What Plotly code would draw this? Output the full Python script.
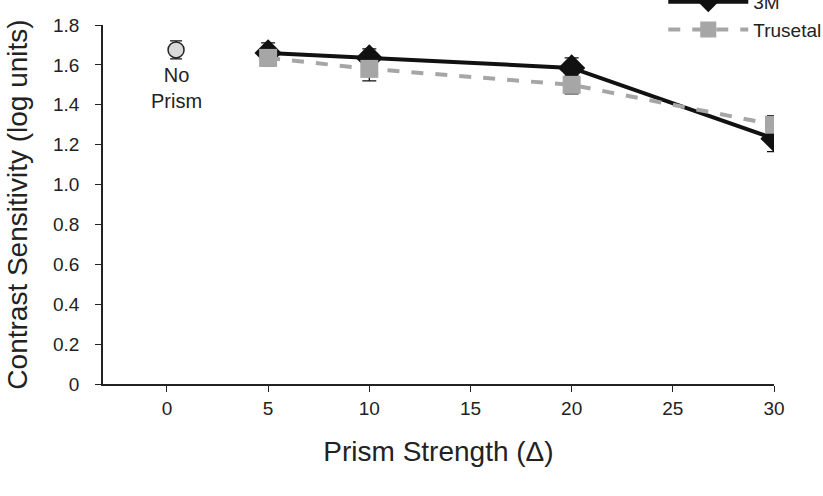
import plotly.graph_objects as go

prism = [5, 10, 20, 30]
m3_vals = [1.66, 1.635, 1.585, 1.23]
m3_err = [0.05, 0.045, 0.05, 0.065]
tru_vals = [1.635, 1.58, 1.50, 1.30]
tru_err = [0.04, 0.06, 0.045, 0.045]
noprism_x = [0.45]
noprism_val = [1.675]
noprism_err = [0.045]

font = "Liberation Sans, Arial, sans-serif"
narrow = "Liberation Sans Narrow, Arial Narrow, Liberation Sans, sans-serif"
fig = go.Figure()
fig.add_trace(go.Scatter(
    x=noprism_x, y=noprism_val, mode="markers", showlegend=False,
    marker=dict(symbol="circle", size=16, color="#d9d9d9", line=dict(color="#222", width=1.5)),
    error_y=dict(type="data", array=noprism_err, color="#111", thickness=1.3, width=6),
))
fig.add_trace(go.Scatter(
    x=prism, y=m3_vals, mode="lines+markers", name="3M",
    line=dict(color="#111", width=4),
    marker=dict(symbol="diamond", size=21, color="#111"),
    error_y=dict(type="data", array=m3_err, color="#111", thickness=1.3, width=7),
))
fig.add_trace(go.Scatter(
    x=prism, y=tru_vals, mode="lines+markers", name="Trusetal",
    line=dict(color="#a6a6a6", width=4, dash="dash"),
    marker=dict(symbol="square", size=18, color="#a6a6a6"),
    error_y=dict(type="data", array=tru_err, color="#111", thickness=1.3, width=7),
))
fig.add_annotation(x=noprism_x[0], y=1.482, text="No<br>Prism", showarrow=False,
                   font=dict(family=font, size=20, color="#222"))

fig.update_layout(
    width=823, height=496, paper_bgcolor="white", plot_bgcolor="white",
    margin=dict(l=103, r=49, t=25, b=112, autoexpand=False),
    font=dict(family=font, color="#222"),
    legend=dict(x=0.835, y=1.117, xanchor="left", yanchor="top", font=dict(size=19, family=font),
                bgcolor="rgba(0,0,0,0)", itemwidth=80, tracegroupgap=0),
    xaxis=dict(range=[-3.16, 30], tickvals=[0, 5, 10, 15, 20, 25, 30], showgrid=False, zeroline=False,
               showline=True, linecolor="#222", linewidth=1.5, ticks="outside", ticklen=6, tickcolor="#222",
               tickfont=dict(size=19, family=narrow),
               title=dict(text="Prism Strength (Δ)", font=dict(size=28, family=font), standoff=24)),
    yaxis=dict(range=[0, 1.8], tickvals=[0, 0.2, 0.4, 0.6, 0.8, 1.0, 1.2, 1.4, 1.6, 1.8],
               ticktext=["0", "0.2", "0.4", "0.6", "0.8", "1.0", "1.2", "1.4", "1.6", "1.8"],
               showgrid=False, zeroline=False,
               showline=True, linecolor="#222", linewidth=1.5, ticks="outside", ticklen=6, tickcolor="#222",
               tickfont=dict(size=19, family=font), ticklabelstandoff=12,
               title=dict(text="Contrast Sensitivity (log units)", font=dict(size=28, family=font), standoff=17)),
)
fig.write_html("out.html")
